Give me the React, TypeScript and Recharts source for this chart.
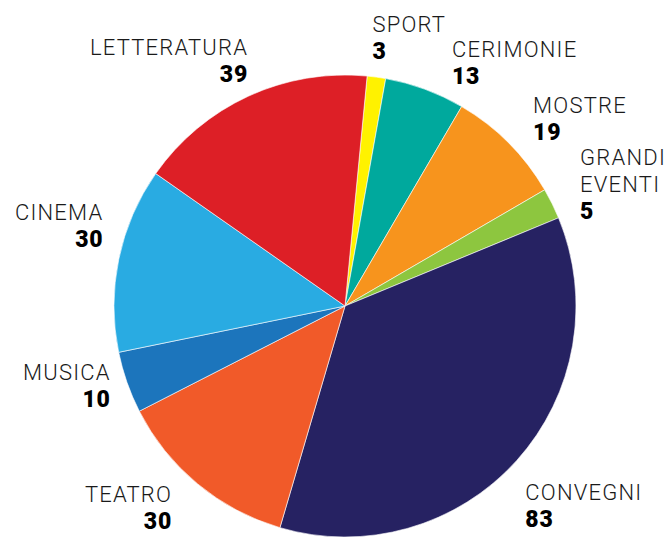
import React from 'react';
import { PieChart, Pie, Cell } from 'recharts';

const NAMES = ['SPORT', 'CERIMONIE', 'MOSTRE', 'GRANDI EVENTI', 'CONVEGNI', 'TEATRO', 'MUSICA', 'CINEMA', 'LETTERATURA'];
const VALUES = [3, 13, 19, 5, 83, 30, 10, 30, 39];
const COLORS = ['#FFF200', '#00A99D', '#F7941D', '#8DC63F', '#262262', '#F15A29', '#1C75BC', '#29ABE2', '#DD1F26'];

// label nudges relative to a point just outside the slice
const NUDGE_X = [-8, 17, 4, 2, -13, -7, 11, 13, 12];
const NUDGE_Y = [-16, -5, -9, -26, 20, -4, -12, -33, -15];

const data = NAMES.map((name, i) => ({ name, value: VALUES[i] }));

const RAD = Math.PI / 180;
const LINE = 27;

const renderLabel = (props: any) => {
  const { cx, cy, midAngle, outerRadius, index } = props;
  const r = outerRadius + 29;
  const px = cx + r * Math.cos(-midAngle * RAD);
  const py = cy + r * Math.sin(-midAngle * RAD);
  const x = px + NUDGE_X[index];
  const y = py + NUDGE_Y[index];
  const anchor = px > cx ? 'start' : 'end';
  const lines = NAMES[index] === 'GRANDI EVENTI' ? ['GRANDI', 'EVENTI'] : [NAMES[index]];
  return (
    <g>
      {lines.map((l, k) => (
        <text key={k} x={x} y={y + k * LINE} textAnchor={anchor} fill="#1a1a1a"
          style={{ fontFamily: 'Roboto, sans-serif', fontWeight: 300, fontSize: 22, letterSpacing: 1.2 }}>
          {l}
        </text>
      ))}
      <text x={x} y={y + lines.length * LINE} textAnchor={anchor} fill="#000"
        style={{ fontFamily: 'Roboto, sans-serif', fontWeight: 900, fontSize: 23, letterSpacing: 0.8 }}>
        {VALUES[index]}
      </text>
    </g>
  );
};

export default function App() {
  return (
    <div style={{ position: 'absolute', left: 0, top: 0, background: '#fff' }}>
      <PieChart width={671} height={537} margin={{ top: 0, right: 0, bottom: 0, left: 0 }}>
        <Pie
          data={data}
          dataKey="value"
          cx={345}
          cy={306}
          outerRadius={231}
          startAngle={84.5}
          endAngle={-275.5}
          stroke="#fff"
          strokeWidth={0.6}
          label={renderLabel}
          labelLine={false}
          isAnimationActive={false}
        >
          {data.map((entry, index) => (
            <Cell key={`cell-${index}`} fill={COLORS[index]} />
          ))}
        </Pie>
      </PieChart>
    </div>
  );
}
